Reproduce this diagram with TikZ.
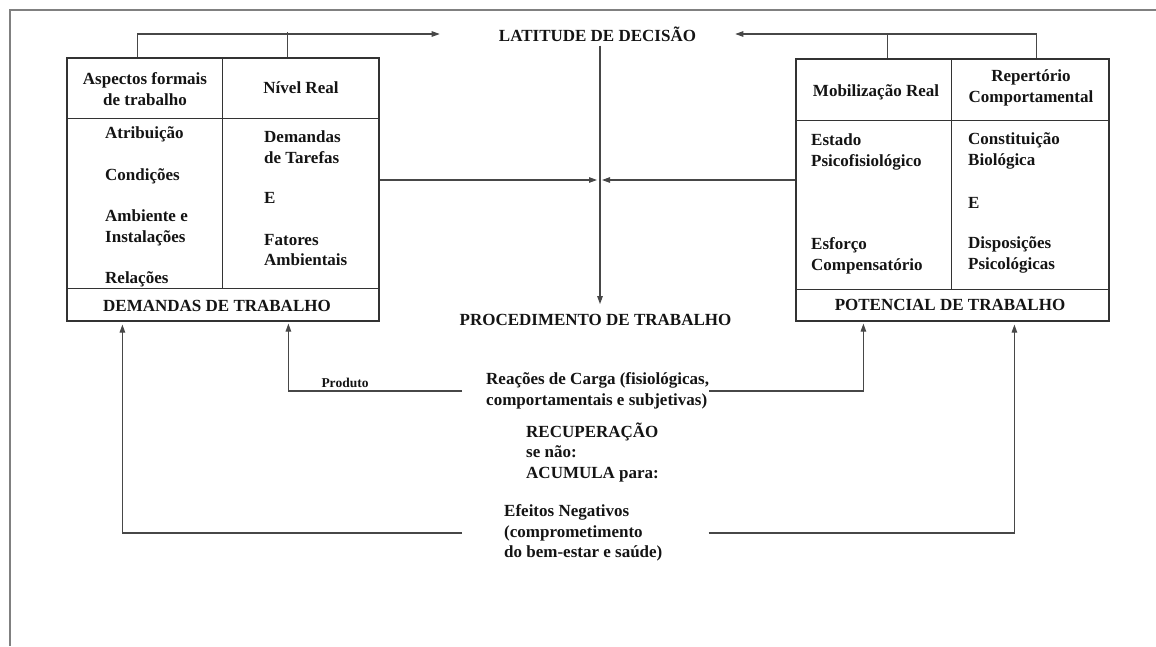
\documentclass[tikz,border=0pt]{standalone}
\usepackage{fontspec}
\setmainfont{Liberation Serif}
\usetikzlibrary{arrows.meta,calc}
\begin{document}
\begin{tikzpicture}[x=1pt,y=-1pt,
  txt/.style={font=\fontsize{17}{20.5}\selectfont\bfseries, text=black!92, inner sep=0pt},
  small/.style={font=\fontsize{13.5}{15}\selectfont\bfseries, text=black!92, inner sep=0pt},
  box/.style={draw=black!80, line width=1.2pt, inner sep=0pt},
  rule/.style={draw=black!80, line width=1.2pt},
  ln/.style={draw=black!72, line width=1.1pt},
  arr/.style={ln, -{Triangle[length=8pt,width=5.5pt]}},
  frame/.style={draw=black!50, line width=1.3pt}
]
\useasboundingbox (0,0) rectangle (1156,646);
\draw[frame] (1156,10) -- (10,10) -- (10,646);

% left box
\node[box, minimum width=312pt, minimum height=263pt] (L) at (223,189.5) {};
\draw[rule] ($(L.north west)+(0,61)$) -- ($(L.north east)+(0,61)$);
\draw[rule] ($(L.north west)+(0,231)$) -- ($(L.north east)+(0,231)$);
\draw[rule] ($(L.north west)+(156,0)$) -- ($(L.north west)+(156,231)$);
\node[txt, align=center] (la) at (145,89) {Aspectos formais\\de trabalho};
\node[txt] (lb) at (301,88) {Nível Real};
\node[txt, anchor=west] (l1) at (105,134) {Atribuição};
\node[txt, anchor=west] (l2) at (105,176) {Condições};
\node[txt, anchor=west, align=left] (l3) at (105,228) {Ambiente e\\Instalações};
\node[txt, anchor=west] (l4) at (105,279) {Relações};
\node[txt, anchor=west, align=left] (r1) at (264,147) {Demandas\\de Tarefas};
\node[txt, anchor=west] (r2) at (264,198) {E};
\node[txt, anchor=west, align=left] (r3) at (264,250) {Fatores\\Ambientais};
\node[txt] (ld) at (217,306) {DEMANDAS DE TRABALHO};

% right box
\node[box, minimum width=313pt, minimum height=262pt] (R) at (952.5,190) {};
\draw[rule] ($(R.north west)+(0,62)$) -- ($(R.north east)+(0,62)$);
\draw[rule] ($(R.north west)+(0,231)$) -- ($(R.north east)+(0,231)$);
\draw[rule] ($(R.north west)+(156,0)$) -- ($(R.north west)+(156,231)$);
\node[txt] (ra) at (876,92) {Mobilização Real};
\node[txt, align=center] (rb) at (1031,88) {Repertório\\Comportamental};
\node[txt, anchor=west, align=left] (m1) at (811,152) {Estado\\Psicofisiológico};
\node[txt, anchor=west, align=left] (m2) at (811,256) {Esforço\\Compensatório};
\node[txt, anchor=west, align=left] (n1) at (968,151) {Constituição\\Biológica};
\node[txt, anchor=west] (n2) at (968,203) {E};
\node[txt, anchor=west, align=left] (n3) at (968,255) {Disposições\\Psicológicas};
\node[txt] (rd) at (950,305) {POTENCIAL DE TRABALHO};

% center
\node[txt] (lat) at (597.5,34) {LATITUDE DE DECISÃO};
\node[txt] (proc) at (595.5,320) {PROCEDIMENTO DE TRABALHO};
\coordinate (J) at (600,180);

\draw[arr] ($(L.north west)+(71,0)$) |- ([xshift=-59pt]lat.west);
\draw[ln] ($(L.north west)+(221,0)$) -- ++(0,-25);
\draw[arr] ($(R.north west)+(241,0)$) |- ([xshift=39pt]lat.east);
\draw[ln] ($(R.north west)+(92,0)$) -- ++(0,-25);

\draw[arr] ([yshift=-4pt]lat.south -| J) -- ([yshift=10pt]proc.north -| J);
\draw[arr] (L.east |- J) -- ([xshift=-3pt]J);
\draw[arr] (R.west |- J) -- ([xshift=2pt]J);

% bottom
\node[txt, anchor=west, align=left] (reac) at (486,391) {Reações de Carga (fisiológicas,\\comportamentais e subjetivas)};
\node[txt, anchor=west, align=left] (rec) at (526,452) {RECUPERAÇÃO\\se não:\\ACUMULA para:};
\node[txt, anchor=west, align=left] (efe) at (504,533) {Efeitos Negativos\\(comprometimento\\do bem-estar e saúde)};
\node[small] (prod) at (345,383) {Produto};

\draw[arr, shorten >=2pt] ([xshift=-24pt]reac.west) -| ($(L.south west)+(222,0)$);
\draw[arr, shorten >=2pt] ([xshift=0pt]reac.east) -| ($(R.south west)+(68,0)$);
\draw[arr, shorten >=3pt] ([xshift=-42pt]efe.west) -| ($(L.south west)+(56,0)$);
\draw[arr, shorten >=3pt] ([xshift=46pt]efe.east) -| ($(R.south west)+(219,0)$);
\end{tikzpicture}
\end{document}
